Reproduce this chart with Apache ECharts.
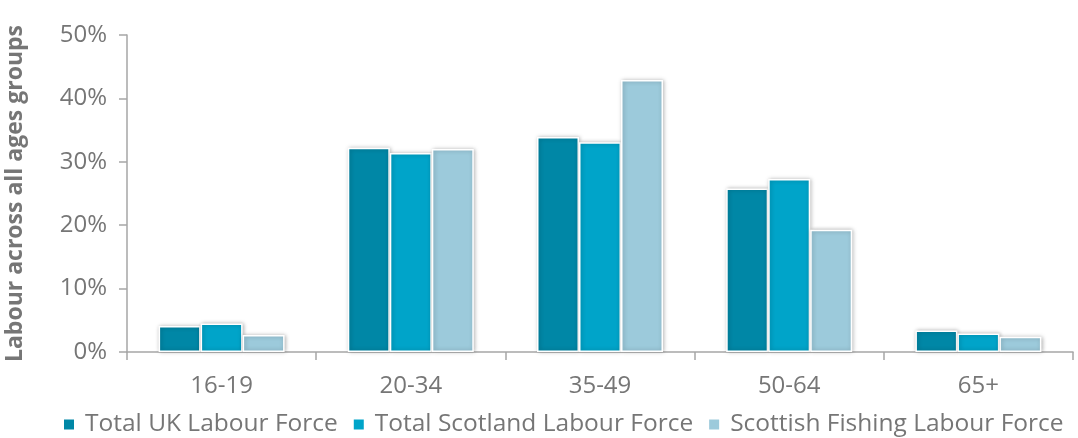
<!DOCTYPE html>
<html>
<head>
<meta charset="utf-8">
<script src="https://cdn.jsdelivr.net/npm/echarts@6/dist/echarts.min.js"></script>
<style>
  html, body { margin: 0; padding: 0; background: #ffffff; }
  #chart { width: 1078px; height: 438px; }
</style>
</head>
<body>
<div id="chart"></div>
<script>
// Age groups and share of labour force (%) in each
const categories = ['16-19', '20-34', '35-49', '50-64', '65+'];
const ukLabour = [4.1, 32.2, 33.9, 25.8, 3.4];
const scotlandLabour = [4.5, 31.4, 33.1, 27.3, 2.9];
const fishingLabour = [2.7, 32.0, 42.9, 19.3, 2.4];
const seriesNames = ['Total UK Labour Force', 'Total Scotland Labour Force', 'Scottish Fishing Labour Force'];
const yTicks = [0, 10, 20, 30, 40, 50];

const colors = ['#0087a6', '#00a4c9', '#9ccadb'];
const textColor = '#767676';
const axisColor = '#a6a6a6';
const fontFamily = '"Open Sans", "Noto Sans", sans-serif';

const chart = echarts.init(document.getElementById('chart'));

function barSeries(name, data, color) {
  return {
    name: name,
    type: 'bar',
    data: data,
    barWidth: 42,
    barGap: '0%',
    itemStyle: {
      color: color,
      borderColor: '#ffffff',
      borderWidth: 1.5,
      shadowColor: 'rgba(0,0,0,0.28)',
      shadowBlur: 4,
      shadowOffsetX: 1,
      shadowOffsetY: 0
    }
  };
}

chart.setOption({
  animation: false,
  color: colors,
  textStyle: { fontFamily: fontFamily },
  grid: { left: 127, right: 5, top: 35, bottom: 86, containLabel: false, outerBoundsMode: 'none' },
  legend: {
    top: 412,
    left: 62,
    width: 1016,
    padding: 0,
    itemWidth: 12,
    itemHeight: 12,
    itemGap: 14,
    icon: 'rect',
    textStyle: { color: textColor, fontSize: 24.5, fontFamily: fontFamily, padding: [0, 0, 0, 5] },
    data: seriesNames
  },
  xAxis: {
    type: 'category',
    data: categories,
    axisLine: { lineStyle: { color: axisColor, width: 1.5 } },
    axisTick: { show: true, length: 8, lineStyle: { color: axisColor, width: 1.5 } },
    axisLabel: { color: textColor, fontSize: 24, margin: 22 }
  },
  yAxis: {
    type: 'value',
    min: yTicks[0],
    max: yTicks[yTicks.length - 1],
    interval: 10,
    name: 'Labour across all ages groups',
    nameLocation: 'middle',
    nameGap: 100,
    nameTextStyle: { color: textColor, fontSize: 23, fontWeight: 'bold', fontFamily: fontFamily },
    axisLine: { show: true, lineStyle: { color: axisColor, width: 1.5 } },
    axisTick: { show: true, length: 8, lineStyle: { color: axisColor, width: 1.5 } },
    splitLine: { show: false },
    axisLabel: { color: textColor, fontSize: 24, margin: 20, formatter: '{value}%' }
  },
  series: [
    barSeries(seriesNames[0], ukLabour, colors[0]),
    barSeries(seriesNames[1], scotlandLabour, colors[1]),
    barSeries(seriesNames[2], fishingLabour, colors[2])
  ]
});
</script>
</body>
</html>
